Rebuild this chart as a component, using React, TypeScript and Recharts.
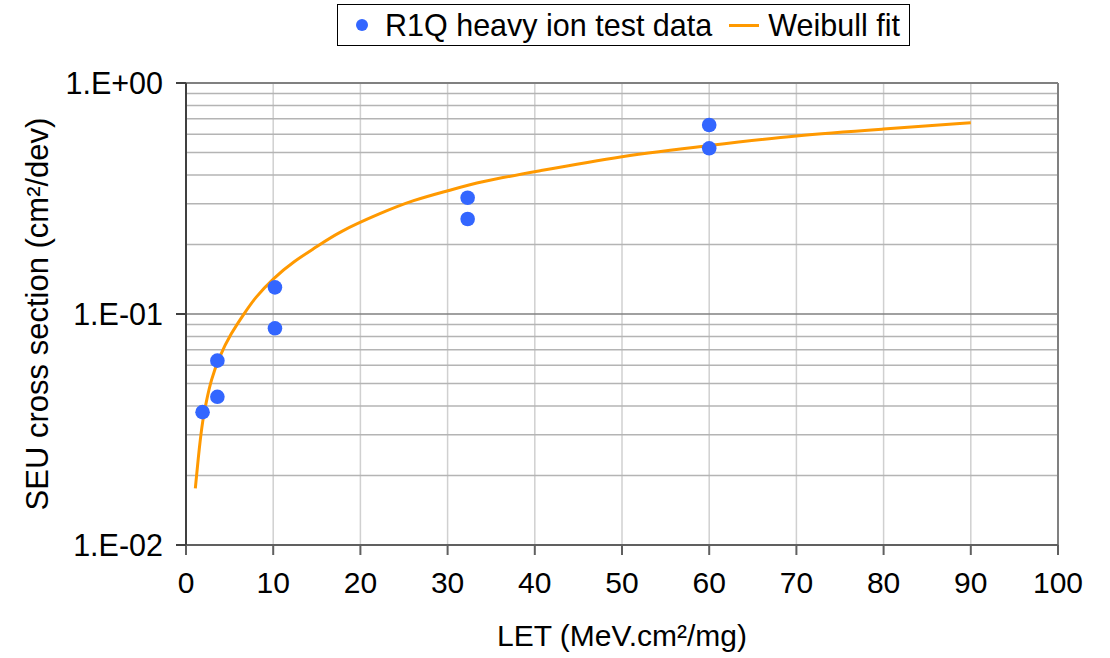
import { ComposedChart, Line, Scatter, XAxis, YAxis, CartesianGrid, Legend, ReferenceLine } from "recharts";

// heavy ion test points (LET, cross section)
const TEST_LET = [1.9, 3.6, 3.6, 10.2, 10.2, 32.3, 32.3, 60, 60];
const TEST_XS = [0.0376, 0.0628, 0.0438, 0.1304, 0.0867, 0.3187, 0.2578, 0.658, 0.5215];

// Weibull fit
const FIT_LET = [1.07, 1.53, 1.92, 2.29, 2.87, 3.82, 5.16, 6.69, 7.91, 10, 12.3, 15, 17.5, 22.25, 26.07, 30.08, 33.72, 40, 50, 60, 70, 80, 90];
const FIT_XS = [0.0176, 0.0266, 0.0348, 0.0411, 0.0518, 0.0654, 0.0825, 0.1007, 0.1176, 0.1427, 0.1684, 0.1956, 0.2265, 0.2729, 0.3114, 0.3418, 0.3738, 0.413, 0.4845, 0.537, 0.594, 0.632, 0.673];

const X_TICKS = [0, 10, 20, 30, 40, 50, 60, 70, 80, 90, 100];
const Y_DECADES = [0.01, 0.1, 1];
const Y_MINOR = [0.02, 0.03, 0.04, 0.05, 0.06, 0.07, 0.08, 0.09, 0.2, 0.3, 0.4, 0.5, 0.6, 0.7, 0.8, 0.9];

const testData = TEST_LET.map((x, i) => ({ x, y: TEST_XS[i] }));
const fitData = FIT_LET.map((x, i) => ({ x, y: FIT_XS[i] }));

const FONT = '"Liberation Sans", Arial, sans-serif';
const DOT = "#3366ff";
const FIT = "#ff9900";

const fmtExp = (v: number) => {
  const e = Math.round(Math.log10(v));
  return `1.E${e < 0 ? "-" : "+"}${String(Math.abs(e)).padStart(2, "0")}`;
};

function LegendBox(props: any) {
  const items = [...(props.payload || [])].sort((a: any) => (a.type === "circle" ? -1 : 1));
  return (
    <div
      style={{
        display: "inline-flex",
        alignItems: "center",
        height: 40,
        border: "1px solid #000",
        padding: "0 9px 0 18px",
        fontFamily: FONT,
        fontSize: 30.5,
        color: "#000",
        background: "#fff",
        whiteSpace: "nowrap",
      }}
    >
      {items.map((e: any) => (
        <span key={e.value} style={{ display: "inline-flex", alignItems: "center" }}>
          {e.type === "circle" ? (
            <span style={{ width: 12, height: 12, borderRadius: 6, background: e.color, marginRight: 17 }} />
          ) : (
            <span style={{ width: 30, height: 3, background: e.color, marginRight: 9 }} />
          )}
          <span style={{ marginRight: e.type === "circle" ? 17 : 0 }}>{e.value}</span>
        </span>
      ))}
    </div>
  );
}

export default function App() {
  return (
    <div style={{ position: "absolute", left: 0, top: 0, width: 1110, height: 658, background: "#fff" }}>
      <ComposedChart width={1110} height={658} margin={{ top: 83, right: 52, bottom: 0, left: 37 }}>
        <CartesianGrid horizontal={false} stroke="#d0d0d0" strokeWidth={1.5} />
        {Y_MINOR.map((v) => (
          <ReferenceLine key={v} y={v} stroke="#b4b4b4" strokeWidth={1.5} />
        ))}
        <ReferenceLine y={0.1} stroke="#808080" strokeWidth={1.5} />
        <ReferenceLine y={1} stroke="#808080" strokeWidth={2} />
        <ReferenceLine x={100} stroke="#808080" strokeWidth={2} />
        <XAxis
          type="number"
          dataKey="x"
          domain={[0, 100]}
          ticks={X_TICKS}
          allowDataOverflow
          height={113}
          stroke="#606060"
          strokeWidth={2}
          tickSize={10}
          tickMargin={17}
          tick={{ fill: "#000", fontSize: 30, fontFamily: FONT }}
          label={{ value: "LET (MeV.cm²/mg)", position: "insideBottom", offset: 12, fill: "#000", fontSize: 30, fontFamily: FONT }}
        />
        <YAxis
          type="number"
          dataKey="y"
          scale="log"
          domain={[0.01, 1]}
          ticks={Y_DECADES}
          allowDataOverflow
          width={149}
          stroke="#404040"
          strokeWidth={2}
          tickSize={10}
          tickMargin={13}
          tickFormatter={fmtExp}
          tick={{ fill: "#000", fontSize: 30.5, fontFamily: FONT }}
          label={{
            value: "SEU cross section (cm²/dev)",
            angle: -90,
            position: "insideLeft",
            offset: 0,
            fill: "#000",
            fontSize: 31,
            fontFamily: FONT,
            style: { textAnchor: "middle" },
          }}
        />
        <Legend
          layout="horizontal"
          verticalAlign="middle"
          align="center"
          content={LegendBox}
          wrapperStyle={{ top: 4, left: 337, width: "auto" }}
        />
        <Line
          data={fitData}
          dataKey="y"
          name="Weibull fit"
          type="basis"
          stroke={FIT}
          strokeWidth={3}
          dot={false}
          activeDot={false}
          legendType="line"
          isAnimationActive={false}
        />
        <Scatter
          data={testData}
          dataKey="y"
          name="R1Q heavy ion test data"
          fill={DOT}
          legendType="circle"
          shape={(p: any) => <circle cx={p.cx} cy={p.cy} r={7.3} fill={DOT} />}
          isAnimationActive={false}
        />
      </ComposedChart>
    </div>
  );
}
